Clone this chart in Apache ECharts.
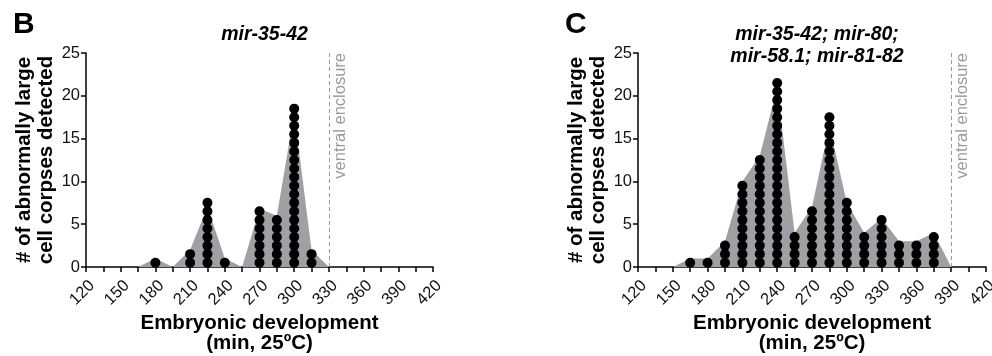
<!DOCTYPE html>
<html>
<head>
<meta charset="utf-8">
<script src="https://cdn.jsdelivr.net/npm/echarts@6/dist/echarts.min.js"></script>
<style>
html,body{margin:0;padding:0;background:#fff;}
#chart{width:992px;height:356px;}
</style>
</head>
<body>
<div id="chart"></div>
<script>
// ---------- data ----------
const xTicks = [120, 150, 180, 210, 240, 270, 300, 330, 360, 390, 420];
const yTicks = [0, 5, 10, 15, 20, 25];

// Panel B: mir-35-42
const dotTimesB = [180, 210, 225, 240, 270, 285, 300, 315];
const dotCountsB = [1, 2, 8, 1, 7, 6, 19, 2];
const areaTimesB = [165, 180, 195, 210, 225, 240, 255, 270, 285, 300, 315, 330];
const areaValsB = [0, 1, 0, 2, 7, 1, 0, 6.8, 6, 18, 2, 0];
const enclosureB = 330;

// Panel C: mir-35-42; mir-80; mir-58.1; mir-81-82
const dotTimesC = [165, 180, 195, 210, 225, 240, 255, 270, 285, 300, 315, 330, 345, 360, 375];
const dotCountsC = [1, 1, 3, 10, 13, 22, 4, 7, 18, 8, 4, 6, 3, 3, 4];
const areaTimesC = [150, 165, 180, 195, 210, 225, 240, 255, 270, 285, 300, 315, 330, 345, 360, 375, 390];
const areaValsC = [0, 1, 1, 3, 10, 13, 21, 4, 7, 16.5, 7.5, 4, 5.7, 3, 3, 4, 0];
const enclosureC = 390;

const titleB = 'mir-35-42';
const titleC = 'mir-35-42; mir-80;\nmir-58.1; mir-81-82';
const yName = '# of abnormally large\ncell corpses detected';
const xName = 'Embryonic development\n(min, 25ºC)';
const enclosureLabel = 'ventral enclosure';

// ---------- build ----------
const FONT = '"Liberation Sans", Arial, Helvetica, sans-serif';
const AREA = '#a0a0a4';

function dots(times, counts) {
  const out = [];
  times.forEach((t, i) => {
    for (let k = 0; k < counts[i]; k++) out.push([t, k + 0.5]);
  });
  return out;
}
function pairs(xs, ys) { return xs.map((x, i) => [x, ys[i]]); }

const grids = [
  {left: 86, top: 53, width: 347, height: 214, containLabel: false, outerBoundsMode: 'none'},
  {left: 638, top: 53, width: 348, height: 214, containLabel: false, outerBoundsMode: 'none'}
];

function xAxis(gi) {
  return {
    type: 'value', gridIndex: gi, min: xTicks[0], max: xTicks[xTicks.length - 1], interval: 30,
    name: xName, nameLocation: 'middle', nameGap: 46, nameMoveOverlap: false,
    nameTextStyle: {fontFamily: FONT, fontSize: 20.5, fontWeight: 'bold', color: '#000', lineHeight: 20, verticalAlign: 'top'},
    axisLine: {onZero: false, lineStyle: {color: '#000', width: 1.5}},
    axisTick: {show: true, length: 5, lineStyle: {color: '#000', width: 1.5}},
    minorTick: {show: true, splitNumber: 2, length: 5, lineStyle: {color: '#000', width: 1.5}},
    splitLine: {show: false},
    axisLabel: {rotate: 45, margin: 10, verticalAlign: 'top', fontFamily: FONT, fontSize: 16.5, color: '#111',
      customValues: xTicks, hideOverlap: false}
  };
}
function yAxis(gi) {
  return {
    type: 'value', gridIndex: gi, min: yTicks[0], max: yTicks[yTicks.length - 1], interval: 5,
    name: yName, nameLocation: 'middle', nameGap: 29, nameRotate: 90, nameMoveOverlap: false,
    nameTextStyle: {fontFamily: FONT, fontSize: 20.5, fontWeight: 'bold', color: '#000', lineHeight: 22},
    axisLine: {show: true, lineStyle: {color: '#000', width: 1.5}},
    axisTick: {show: true, length: 5, lineStyle: {color: '#000', width: 1.5}},
    splitLine: {show: false},
    axisLabel: {margin: 6, fontFamily: FONT, fontSize: 16.5, color: '#111'}
  };
}

function areaSeries(gi, xs, ys, encl) {
  return {
    type: 'line', xAxisIndex: gi, yAxisIndex: gi, data: pairs(xs, ys),
    symbol: 'none', lineStyle: {width: 0}, areaStyle: {color: AREA, opacity: 1},
    silent: true, z: 1,
    markLine: {
      silent: true, symbol: 'none',
      lineStyle: {color: '#9a9a9a', type: [4, 3], width: 1},
      label: {show: true, formatter: enclosureLabel, position: 'insideEndBottom',
        fontFamily: FONT, fontSize: 16.5, color: '#9a9a9a', distance: [0, 3]},
      data: [{xAxis: encl}]
    }
  };
}
function dotSeries(gi, times, counts) {
  return {
    type: 'scatter', xAxisIndex: gi, yAxisIndex: gi, data: dots(times, counts),
    symbol: 'circle', symbolSize: 10, itemStyle: {color: '#000', opacity: 1}, silent: true, z: 3
  };
}

const option = {
  animation: false,
  backgroundColor: '#fff',
  title: [
    {text: 'B', left: 8, top: 5, textStyle: {fontFamily: FONT, fontSize: 30, fontWeight: 'bold', color: '#000'}},
    {text: 'C', left: 560, top: 5, textStyle: {fontFamily: FONT, fontSize: 30, fontWeight: 'bold', color: '#000'}},
    {text: titleB, left: 259.5, top: 20, textAlign: 'center',
      textStyle: {fontFamily: FONT, fontSize: 19.5, fontWeight: 'bold', fontStyle: 'italic', color: '#000'}},
    {text: titleC, left: 812, top: 19, textAlign: 'center',
      textStyle: {fontFamily: FONT, fontSize: 19.5, fontWeight: 'bold', fontStyle: 'italic', color: '#000', lineHeight: 22}}
  ],
  grid: grids,
  xAxis: [xAxis(0), xAxis(1)],
  yAxis: [yAxis(0), yAxis(1)],
  series: [
    areaSeries(0, areaTimesB, areaValsB, enclosureB),
    dotSeries(0, dotTimesB, dotCountsB),
    areaSeries(1, areaTimesC, areaValsC, enclosureC),
    dotSeries(1, dotTimesC, dotCountsC)
  ]
};

const chart = echarts.init(document.getElementById('chart'), null, {renderer: 'canvas'});
chart.setOption(option);
</script>
</body>
</html>
